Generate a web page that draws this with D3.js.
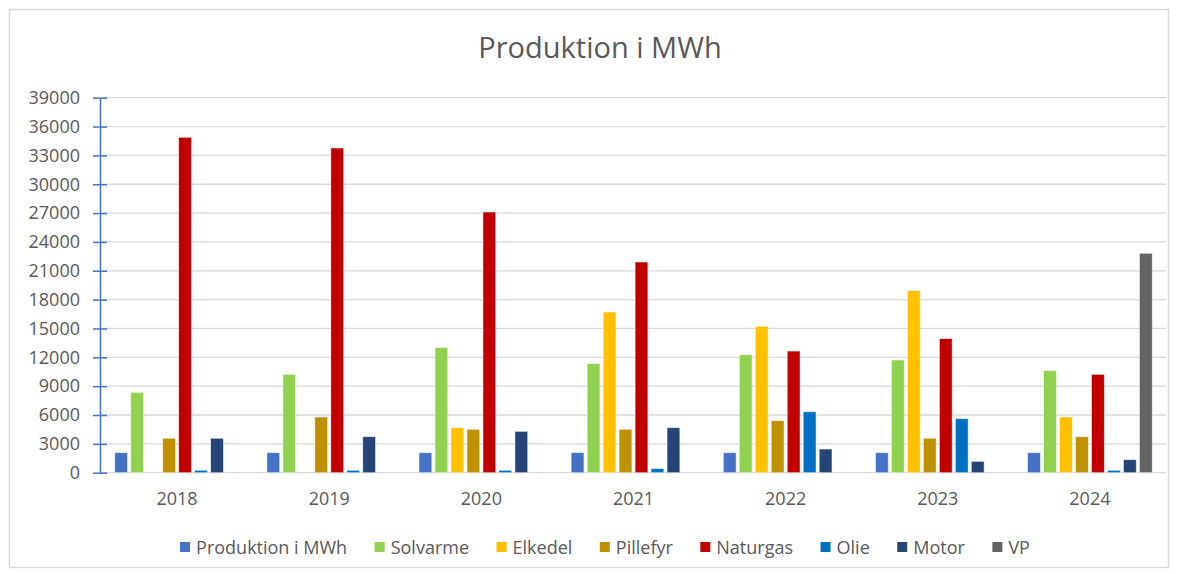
<!DOCTYPE html>
<html>
<head>
<meta charset="utf-8">
<script src="https://cdn.jsdelivr.net/npm/d3@7"></script>
<style>
  html, body { margin: 0; padding: 0; background: #fff; }
  svg { display: block; font-family: "Open Sans", sans-serif; }
</style>
</head>
<body>
<div id="chart"></div>
<script>
// years on the x axis
const years = ['2018', '2019', '2020', '2021', '2022', '2023', '2024'];

// series names + colours (Excel default palette)
const series = ['Produktion i MWh', 'Solvarme', 'Elkedel', 'Pillefyr', 'Naturgas', 'Olie', 'Motor', 'VP'];
const colors = ['#4472C4', '#92D050', '#FFC000', '#BF9000', '#C00000', '#0070C0', '#264478', '#636363'];

// values per series, one per year (MWh)
const produktion = [2080, 2080, 2080, 2080, 2080, 2080, 2080];
const solvarme   = [8360, 10230, 13000, 11340, 12270, 11720, 10610];
const elkedel    = [0, 0, 4680, 16710, 15220, 18930, 5790];
const pillefyr   = [3580, 5790, 4510, 4510, 5410, 3580, 3740];
const naturgas   = [34880, 33770, 27110, 21910, 12650, 13940, 10230];
const olie       = [250, 250, 250, 420, 6340, 5620, 250];
const motor      = [3580, 3745, 4300, 4680, 2460, 1180, 1350];
const vp         = [0, 0, 0, 0, 0, 0, 22820];

const yTicks = [0, 3000, 6000, 9000, 12000, 15000, 18000, 21000, 24000, 27000, 30000, 33000, 36000, 39000];

const values = [produktion, solvarme, elkedel, pillefyr, naturgas, olie, motor, vp];

const W = 1179, H = 574;
const plot = { left: 101, right: 1166, top: 97.7, bottom: 472.7 };
const textColor = '#595959';

const svg = d3.select('#chart').append('svg')
  .attr('width', W).attr('height', H);

// chart border
svg.append('rect')
  .attr('x', 9.5).attr('y', 9.5)
  .attr('width', 1159).attr('height', 558)
  .attr('fill', '#fff')
  .attr('stroke', '#d9d9d9').attr('stroke-width', 1.5);

svg.append('text')
  .attr('x', 600).attr('y', 58)
  .attr('text-anchor', 'middle')
  .attr('fill', textColor)
  .style('font-size', '29px')
  .text('Produktion i MWh');

const x0 = d3.scaleBand().domain(years).range([plot.left, plot.right]).padding(0);
const x1 = d3.scaleBand().domain(series).range([0, x0.bandwidth()])
  .paddingInner(0.2).paddingOuter(0.86);
const y = d3.scaleLinear().domain([0, 39000]).range([plot.bottom, plot.top]);

// gridlines
svg.append('g')
  .selectAll('line')
  .data(yTicks.filter(t => t > 0))
  .join('line')
  .attr('x1', plot.left).attr('x2', plot.right)
  .attr('y1', d => y(d)).attr('y2', d => y(d))
  .attr('stroke', '#d9d9d9').attr('stroke-width', 1.3);

// x baseline
svg.append('line')
  .attr('x1', plot.left).attr('x2', plot.right)
  .attr('y1', y(0)).attr('y2', y(0))
  .attr('stroke', '#d9d9d9').attr('stroke-width', 1.3);

// bars
const groups = svg.append('g')
  .selectAll('g')
  .data(years)
  .join('g')
  .attr('transform', d => `translate(${x0(d)},0)`);

groups.selectAll('rect')
  .data((yr, i) => series.map((s, k) => ({ s, k, v: values[k][i] })).filter(d => d.v > 0))
  .join('rect')
  .attr('x', d => x1(d.s))
  .attr('width', x1.bandwidth())
  .attr('y', d => y(d.v))
  .attr('height', d => y(0) - y(d.v))
  .attr('fill', d => colors[d.k])
  .attr('stroke', '#fff').attr('stroke-opacity', 0.6).attr('stroke-width', 0.8);

// y axis, Excel style with cross ticks
const yAxis = d3.axisLeft(y).tickValues(yTicks).tickSize(0).tickPadding(20).tickFormat(d3.format('d'));
const ya = svg.append('g').attr('transform', `translate(${plot.left - 1},0)`).call(yAxis);
ya.select('.domain').attr('stroke', '#4472C4').attr('stroke-width', 1.5);
ya.selectAll('.tick line').remove();
ya.selectAll('.tick').append('line')
  .attr('x1', -7).attr('x2', 7)
  .attr('stroke', '#4472C4').attr('stroke-width', 1.5);
ya.selectAll('.tick text')
  .attr('fill', textColor)
  .style('font-size', '18px')
  .style('font-family', '"Open Sans", sans-serif');

// x axis labels
svg.append('g')
  .selectAll('text')
  .data(years)
  .join('text')
  .attr('x', d => x0(d) + x0.bandwidth() / 2)
  .attr('y', 505)
  .attr('text-anchor', 'middle')
  .attr('fill', textColor)
  .style('font-size', '18px')
  .text(d => d);

// legend, laid out from measured text widths and centred
const legend = svg.append('g');
const items = legend.selectAll('g')
  .data(series)
  .join('g');
items.append('rect')
  .attr('width', 10).attr('height', 10)
  .attr('y', 542)
  .attr('fill', (d, i) => colors[i]);
items.append('text')
  .attr('x', 16).attr('y', 554)
  .attr('fill', textColor)
  .style('font-size', '18px')
  .text(d => d);

const gap = 27.5;
let cx = 0;
const offs = [];
items.each(function() {
  offs.push(cx);
  cx += 16 + this.querySelector('text').getComputedTextLength() + gap;
});
const total = cx - gap;
const startX = 605 - total / 2;
items.attr('transform', (d, i) => `translate(${startX + offs[i]},0)`);
</script>
</body>
</html>
